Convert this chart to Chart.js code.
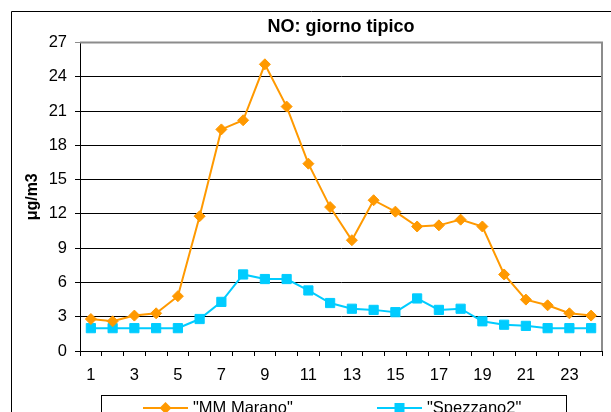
<!DOCTYPE html>
<html>
<head>
<meta charset="utf-8">
<script src="https://cdn.jsdelivr.net/npm/chart.js@4/dist/chart.umd.min.js"></script>
<style>
html,body{margin:0;padding:0;background:#fff;overflow:hidden}
#wrap{width:611px;height:412px;position:relative}
</style>
</head>
<body>
<div id="wrap"><canvas id="c" width="611" height="412"></canvas></div>
<script>
const chartTitle = 'NO: giorno tipico';
const yAxisTitle = 'μg/m3';
const hours = ['1','2','3','4','5','6','7','8','9','10','11','12','13','14','15','16','17','18','19','20','21','22','23','24'];
const seriesNames = ['"MM Marano"', '"Spezzano2"'];
const marano = [2.8, 2.6, 3.1, 3.3, 4.8, 11.8, 19.4, 20.2, 25.1, 21.4, 16.4, 12.6, 9.7, 13.2, 12.2, 10.9, 11.0, 11.5, 10.9, 6.7, 4.5, 4.0, 3.3, 3.1];
const spezzano = [2.0, 2.0, 2.0, 2.0, 2.0, 2.8, 4.3, 6.7, 6.3, 6.3, 5.3, 4.2, 3.7, 3.6, 3.4, 4.6, 3.6, 3.7, 2.6, 2.3, 2.2, 2.0, 2.0, 2.0];
const yMin = 0, yMax = 27, yStep = 3;

const FONT = '"Liberation Sans", Arial, sans-serif';
const ORANGE = '#FF9900';
const CYAN = '#00CCFF';

const framePlugin = {
  id: 'frame',
  beforeDraw(chart) {
    const ctx = chart.ctx;
    ctx.save();
    ctx.fillStyle = '#fff';
    ctx.fillRect(0, 0, chart.width, chart.height);
    ctx.strokeStyle = '#000';
    ctx.lineWidth = 1;
    ctx.beginPath();
    ctx.moveTo(11.5, chart.height);
    ctx.lineTo(11.5, 11.5);
    ctx.lineTo(chart.width, 11.5);
    ctx.stroke();
    ctx.restore();
  },
  afterDraw(chart) {
    const ctx = chart.ctx;
    const a = chart.chartArea;
    ctx.save();
    // grey plot border top & right
    ctx.strokeStyle = '#8c8c8c';
    ctx.lineWidth = 2;
    ctx.beginPath();
    ctx.moveTo(a.left, a.top);
    ctx.lineTo(a.right, a.top);
    ctx.lineTo(a.right, a.bottom);
    ctx.stroke();

    // legend box
    ctx.strokeStyle = '#000';
    ctx.lineWidth = 1;
    ctx.strokeRect(101.5, 395.5, 465, 40);
    const items = [
      {x0: 143, x1: 188, tx: 193},
      {x0: 377, x1: 422, tx: 427}
    ];
    const ly = 408;
    chart.data.datasets.forEach((ds, i) => {
      const it = items[i];
      ctx.strokeStyle = ds.borderColor;
      ctx.lineWidth = 2;
      ctx.beginPath();
      ctx.moveTo(it.x0, ly);
      ctx.lineTo(it.x1, ly);
      ctx.stroke();
      const cx = (it.x0 + it.x1) / 2;
      ctx.fillStyle = ds.backgroundColor;
      ctx.beginPath();
      if (ds.pointStyle === 'rectRot') {
        const r = 6;
        ctx.moveTo(cx - r, ly); ctx.lineTo(cx, ly - r); ctx.lineTo(cx + r, ly); ctx.lineTo(cx, ly + r);
        ctx.closePath();
      } else {
        const s = 5;
        ctx.rect(cx - s, ly - s, 2 * s, 2 * s);
      }
      ctx.fill();
      ctx.fillStyle = '#000';
      ctx.font = '16.5px ' + FONT;
      ctx.textBaseline = 'middle';
      ctx.textAlign = 'left';
      ctx.fillText(ds.label, it.tx, ly);
    });
    ctx.restore();
  }
};

new Chart(document.getElementById('c'), {
  type: 'line',
  data: {
    labels: hours,
    datasets: [
      {
        label: seriesNames[0],
        data: marano,
        borderColor: ORANGE,
        backgroundColor: ORANGE,
        borderWidth: 2,
        pointStyle: 'rectRot',
        pointRadius: 5.5,
        pointBorderWidth: 1,
        pointBorderColor: ORANGE,
        pointBackgroundColor: ORANGE,
        tension: 0
      },
      {
        label: seriesNames[1],
        data: spezzano,
        borderColor: CYAN,
        backgroundColor: CYAN,
        borderWidth: 2,
        pointStyle: 'rect',
        pointRadius: 6.5,
        pointBorderWidth: 1,
        pointBorderColor: CYAN,
        pointBackgroundColor: CYAN,
        tension: 0
      }
    ]
  },
  options: {
    responsive: false,
    animation: false,
    layout: { padding: { top: 16, right: 9, bottom: 0, left: 0 } },
    plugins: {
      legend: { display: false },
      tooltip: { enabled: false },
      title: {
        display: true,
        text: chartTitle,
        fullSize: false,
        color: '#000',
        font: { family: FONT, size: 18, weight: 'bold', lineHeight: 1.2 },
        padding: { top: 0, bottom: 5 }
      }
    },
    scales: {
      x: {
        type: 'category',
        offset: true,
        grid: { offset: true, drawOnChartArea: false, drawTicks: true, tickLength: 5, color: '#000', lineWidth: 1 },
        border: { display: true, color: '#000', width: 1 },
        ticks: {
          autoSkip: false, maxRotation: 0, minRotation: 0, padding: 10, color: '#000',
          font: { family: FONT, size: 16.5 },
          callback: (v, i) => (i % 2 === 0 ? hours[i] : '')
        },
        afterFit: (s) => { s.height = 61; }
      },
      y: {
        min: yMin, max: yMax,
        ticks: { stepSize: yStep, padding: 8, color: '#000', font: { family: FONT, size: 16.5 } },
        grid: {
          drawTicks: true, tickLength: 5, lineWidth: 1,
          color: (c) => (c.tick && c.tick.value === yMax ? '#8c8c8c' : '#000')
        },
        border: { display: true, color: '#000', width: 1 },
        title: {
          display: true, text: yAxisTitle, color: '#000',
          font: { family: FONT, size: 16, weight: 'bold', lineHeight: 1.2 },
          padding: { top: 23, bottom: 0 }
        },
        afterFit: (s) => { s.width = 80; }
      }
    }
  },
  plugins: [framePlugin]
});
</script>
</body>
</html>
